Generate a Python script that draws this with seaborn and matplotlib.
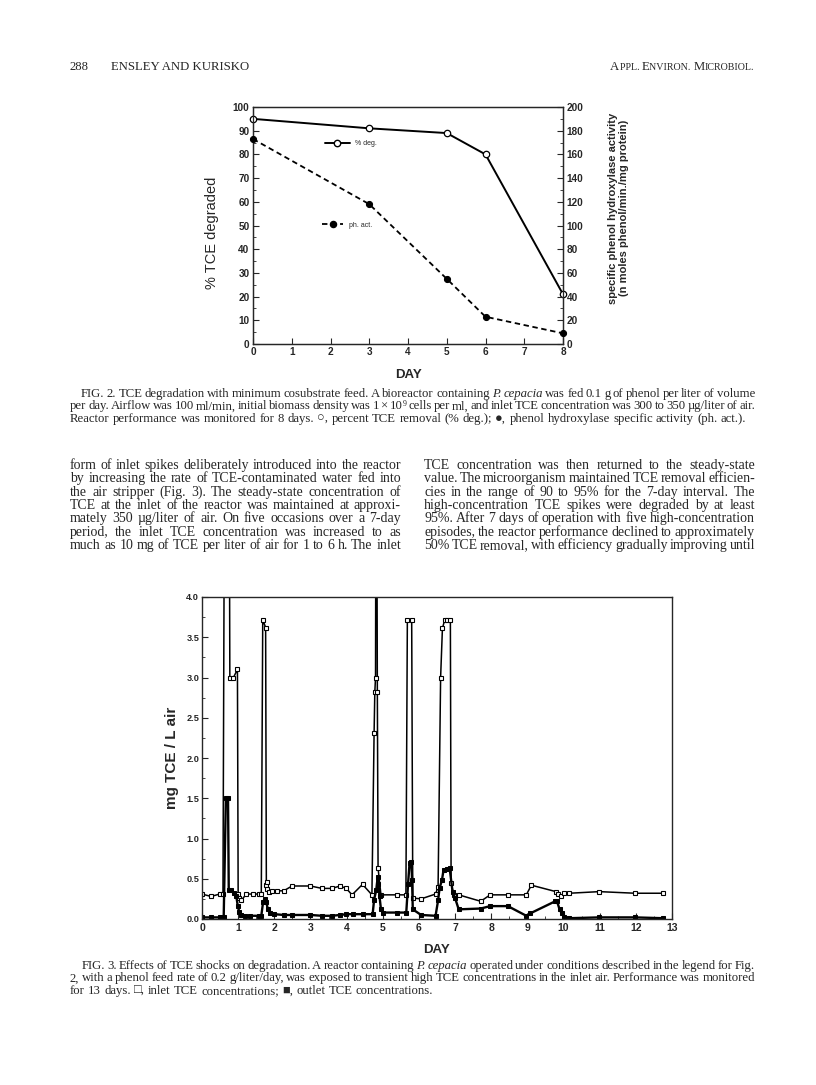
import matplotlib
matplotlib.use("Agg")
import matplotlib.pyplot as plt
import seaborn as sns
from matplotlib.lines import Line2D
from matplotlib.ticker import MultipleLocator, FormatStrFormatter

W, H = 816, 1085

# ---- Fig. 2 data ----
fig2_days = [0, 3, 5, 6, 8]
pct_degraded = [95, 91, 89, 80, 21]
ph_activity = [173, 118, 55, 23, 9]

# ---- Fig. 3 data (mg TCE / L air) ----
inlet_days = [0.00, 0.25, 0.49, 0.58, 0.64, 0.74, 0.77, 0.87, 0.98, 1.00, 1.02, 1.08,
              1.23, 1.40, 1.57, 1.64, 1.68, 1.76, 1.78, 1.80, 1.81, 1.84, 1.94, 2.08,
              2.26, 2.49, 3.00, 3.32, 3.59, 3.82, 3.99, 4.15, 4.44, 4.70, 4.76, 4.78,
              4.80, 4.82, 4.85, 4.87, 4.95, 5.39, 5.64, 5.68, 5.80, 5.83, 6.06, 6.46,
              6.53, 6.60, 6.65, 6.71, 6.79, 6.87, 6.89, 6.96, 7.10, 7.71, 7.97, 8.46,
              8.97, 9.11, 9.79, 9.86, 9.94, 10.02, 10.16, 10.99, 11.98, 12.75]
inlet_tce = [0.31, 0.28, 0.31, 0.31, 8.0, 8.0, 3.00, 3.00, 3.10, 0.31, 0.26, 0.23,
             0.31, 0.31, 0.31, 0.31, 3.72, 3.62, 0.42, 0.46, 0.37, 0.34, 0.35, 0.35,
             0.35, 0.41, 0.41, 0.38, 0.38, 0.41, 0.38, 0.30, 0.43, 0.30, 2.31, 2.82,
             3.00, 8.0, 2.82, 0.63, 0.30, 0.30, 0.30, 3.71, 3.71, 0.26, 0.25, 0.31,
             0.40, 3.00, 3.61, 3.71, 3.71, 3.71, 0.45, 0.30, 0.30, 0.22, 0.30, 0.30,
             0.30, 0.42, 0.34, 0.31, 0.29, 0.32, 0.32, 0.34, 0.32, 0.32]
outlet_days = [0.00, 0.25, 0.49, 0.60, 0.66, 0.72, 0.74, 0.81, 0.89, 0.95, 0.99, 1.03,
               1.09, 1.20, 1.34, 1.57, 1.64, 1.69, 1.73, 1.78, 1.82, 1.87, 2.00, 2.26,
               2.49, 3.00, 3.32, 3.59, 3.82, 3.99, 4.17, 4.44, 4.72, 4.76, 4.82, 4.86,
               4.88, 4.91, 4.95, 5.00, 5.39, 5.65, 5.70, 5.74, 5.79, 5.81, 5.83, 6.06,
               6.46, 6.53, 6.57, 6.64, 6.68, 6.79, 6.85, 6.93, 7.00, 7.10, 7.71, 7.97,
               8.46, 8.97, 9.08, 9.77, 9.82, 9.89, 9.95, 10.02, 10.16, 10.99, 11.98, 12.75]
outlet_tce = [0.02, 0.02, 0.02, 0.02, 1.50, 1.50, 0.36, 0.36, 0.32, 0.28, 0.16, 0.09,
              0.05, 0.04, 0.04, 0.04, 0.04, 0.21, 0.25, 0.21, 0.12, 0.08, 0.06, 0.05,
              0.05, 0.05, 0.04, 0.04, 0.05, 0.06, 0.06, 0.06, 0.06, 0.24, 0.36, 0.52,
              0.44, 0.28, 0.12, 0.08, 0.08, 0.08, 0.44, 0.69, 0.71, 0.49, 0.12, 0.05,
              0.04, 0.23, 0.38, 0.49, 0.61, 0.62, 0.63, 0.34, 0.26, 0.12, 0.13, 0.16,
              0.16, 0.04, 0.07, 0.22, 0.22, 0.12, 0.07, 0.03, 0.01, 0.02, 0.02, 0.01]

# ---- page text (_x_ = italic, a^b = superscript) ----
caption2 = [
    "FIG. 2. TCE degradation with minimum cosubstrate feed. A bioreactor containing _P._ _cepacia_ was fed 0.1 g of phenol per liter of volume",
    "per day. Airflow was 100 ml/min, initial biomass density was 1 × 10^9 cells per ml, and inlet TCE concentration was 300 to 350 µg/liter of air.",
    "Reactor performance was monitored for 8 days. ○, percent TCE removal (% deg.); ●, phenol hydroxylase specific activity (ph. act.).",
]
body_left = [
    "form of inlet spikes deliberately introduced into the reactor",
    "by increasing the rate of TCE-contaminated water fed into",
    "the air stripper (Fig. 3). The steady-state concentration of",
    "TCE at the inlet of the reactor was maintained at approxi-",
    "mately 350 µg/liter of air. On five occasions over a 7-day",
    "period, the inlet TCE concentration was increased to as",
    "much as 10 mg of TCE per liter of air for 1 to 6 h. The inlet",
]
body_right = [
    "TCE concentration was then returned to the steady-state",
    "value. The microorganism maintained TCE removal efficien-",
    "cies in the range of 90 to 95% for the 7-day interval. The",
    "high-concentration TCE spikes were degraded by at least",
    "95%. After 7 days of operation with five high-concentration",
    "episodes, the reactor performance declined to approximately",
    "50% TCE removal, with efficiency gradually improving until",
]
caption3 = [
    "FIG. 3. Effects of TCE shocks on degradation. A reactor containing _P._ _cepacia_ operated under conditions described in the legend for Fig.",
    "2, with a phenol feed rate of 0.2 g/liter/day, was exposed to transient high TCE concentrations in the inlet air. Performance was monitored",
    "for 13 days. □, inlet TCE concentrations; ■, outlet TCE concentrations.",
]

sns.set_style("ticks")
plt.rcParams['font.family'] = ['Liberation Sans', 'DejaVu Sans']
plt.rcParams['axes.linewidth'] = 0.9
SERIF = ['Liberation Serif', 'DejaVu Serif']

fig = plt.figure(figsize=(W / 100, H / 100), dpi=100)
renderer = fig.canvas.get_renderer()


def text_width(s, size, style='normal'):
    t = fig.text(0, 0, s, fontsize=size, family=SERIF, style=style)
    w = t.get_window_extent(renderer).width
    t.remove()
    return w


def split_words(line):
    out = []
    for w in line.split(' '):
        if w.startswith('_') and w.endswith('_'):
            out.append((w[1:-1], 'italic'))
        elif '^' in w:
            out.append((w, 'sup'))
        else:
            out.append((w, 'normal'))
    return out


def word_width(w, st, size):
    if st == 'sup':
        base, sup = w.split('^')
        return text_width(base, size) + text_width(sup, size * 0.62)
    return text_width(w, size, st)


def tight_width(line, size, squeeze=0.6):
    # words plus squeezed interword spaces, as a justified line can carry
    words = split_words(line)
    sp = text_width('x x', size) - text_width('xx', size)
    return sum(word_width(w, st, size) for w, st in words) + squeeze * sp * (len(words) - 1)


def fit_size(blocks, base=10.0):
    best = 20
    for lines, width, indent in blocks:
        for i, ln in enumerate(lines):
            avail = width - (indent if i == 0 else 0)
            best = min(best, base * avail / tight_width(ln, base))
    return best


def draw_word(w, st, x, y, size):
    if st == 'sup':
        base, sup = w.split('^')
        fig.text(x / W, 1 - y / H, base, fontsize=size, family=SERIF, va='baseline')
        bw = text_width(base, size)
        fig.text((x + bw) / W, 1 - (y - size * 0.42) / H, sup, fontsize=size * 0.62,
                 family=SERIF, va='baseline')
    else:
        fig.text(x / W, 1 - y / H, w, fontsize=size, family=SERIF, style=st, va='baseline')


def draw_line(line, x0, x1, y, size, justify=True):
    words = split_words(line)
    widths = [word_width(w, st, size) for w, st in words]
    gap = text_width('x x', size) - text_width('xx', size)
    if justify and len(words) > 1:
        gap = (x1 - x0 - sum(widths)) / (len(words) - 1)
    x = x0
    for (w, st), wd in zip(words, widths):
        draw_word(w, st, x, y, size)
        x += wd + gap


def draw_block(lines, x0, x1, y0, step, size, indent=0, last_left=False):
    for i, ln in enumerate(lines):
        xs = x0 + (indent if i == 0 else 0)
        just = not (last_left and i == len(lines) - 1)
        draw_line(ln, xs, x1, y0 + i * step, size, justify=just)


# ---- running head ----
fig.text(70 / W, 1 - 70 / H, "288", fontsize=9.2, family=SERIF, va='baseline')
fig.text(111 / W, 1 - 70 / H, "ENSLEY AND KURISKO", fontsize=9.2, family=SERIF, va='baseline')
smallcaps = [("A", 9.2), ("PPL. ", 7.2), ("E", 9.2), ("NVIRON. ", 7.2), ("M", 9.2), ("ICROBIOL.", 7.2)]
total = sum(text_width(s.replace(' ', '\u00a0'), z) for s, z in smallcaps)
x = 754 - total
for s, z in smallcaps:
    s2 = s.replace(' ', '\u00a0')
    fig.text(x / W, 1 - 70 / H, s2, fontsize=z, family=SERIF, va='baseline')
    x += text_width(s2, z)

# ---- Fig. 2 ----
ax = fig.add_axes([253 / W, 1 - 344 / H, 310 / W, 237 / H])
sns.lineplot(x=fig2_days, y=pct_degraded, ax=ax, color='black', lw=1.4, marker='o',
             markersize=4.6, markerfacecolor='white', markeredgecolor='black',
             markeredgewidth=0.9, legend=False, clip_on=False, zorder=3)
axr = ax.twinx()
sns.lineplot(x=fig2_days, y=ph_activity, ax=axr, color='black', lw=1.3, linestyle=(0, (3, 2)),
             marker='o', markersize=4.4, markerfacecolor='black', markeredgecolor='black',
             legend=False, clip_on=False, zorder=3)
ax.set_xlim(0, 8)
ax.set_ylim(0, 100)
axr.set_ylim(0, 200)
ax.xaxis.set_major_locator(MultipleLocator(1))
ax.yaxis.set_major_locator(MultipleLocator(10))
ax.yaxis.set_minor_locator(MultipleLocator(5))
axr.yaxis.set_major_locator(MultipleLocator(20))
axr.yaxis.set_minor_locator(MultipleLocator(10))
for a in (ax, axr):
    a.tick_params(which='major', direction='in', length=4, width=0.8, labelsize=7.2, pad=2.5)
    a.tick_params(which='minor', direction='in', length=2, width=0.6)
    for lab in a.get_xticklabels() + a.get_yticklabels():
        lab.set_fontweight('bold')
    for sp in a.spines.values():
        sp.set_visible(True)
ax.set_xlabel("DAY", fontsize=9.5, fontweight='bold', va='center')
ax.xaxis.set_label_coords(0.5, -0.131)
ax.set_ylabel("% TCE degraded", fontsize=10.5, va='center', ha='center')
ax.yaxis.set_label_coords(-0.132, 0.468)
axr.set_ylabel("specific phenol hydroxylase activity\n(n moles phenol/min./mg protein)",
               fontsize=8, fontweight='bold', va='center', ha='center', linespacing=1.1)
axr.yaxis.set_label_coords(1.178, 0.574)

h1 = Line2D([], [], color='black', lw=1.4, marker='o', markersize=4.6,
            markerfacecolor='white', markeredgecolor='black')
h2 = Line2D([], [], color='black', lw=1.3, linestyle=(0, (3, 2)), marker='o',
            markersize=4.4, markerfacecolor='black')
leg1 = axr.legend([h1], ["% deg."], loc='center left', bbox_to_anchor=(0.232, 0.844),
                  frameon=False, fontsize=5, handlelength=3.6, handletextpad=0.8,
                  borderpad=0, borderaxespad=0)
axr.add_artist(leg1)
axr.legend([h2], ["ph. act."], loc='center left', bbox_to_anchor=(0.222, 0.502),
           frameon=False, fontsize=5, handlelength=3.1, handletextpad=0.8,
           borderpad=0, borderaxespad=0)

cap_size = fit_size([(caption2[:-1], 685, 11), (caption3[:-1], 685, 12)])
body_size = fit_size([(body_left, 331, 0), (body_right, 331, 0)])

draw_block(caption2, 70, 755, 397, 12.4, cap_size, indent=11, last_left=True)
draw_block(body_left, 70, 401, 469, 13.35, body_size)
draw_block(body_right, 424, 755, 469, 13.35, body_size)

# ---- Fig. 3 ----
ax3 = fig.add_axes([202 / W, 1 - 919 / H, 470 / W, 322 / H])
sns.lineplot(x=inlet_days, y=inlet_tce, ax=ax3, estimator=None, sort=False, color='black',
             lw=1.1, marker='s', markersize=3.2, markerfacecolor='white',
             markeredgecolor='black', markeredgewidth=0.8, legend=False)
sns.lineplot(x=outlet_days, y=outlet_tce, ax=ax3, estimator=None, sort=False, color='black',
             lw=1.7, marker='s', markersize=3.0, markerfacecolor='black',
             markeredgecolor='black', legend=False)
ax3.set_xlim(0, 13)
ax3.set_ylim(0, 4)
ax3.xaxis.set_major_locator(MultipleLocator(1))
ax3.xaxis.set_minor_locator(MultipleLocator(0.5))
ax3.yaxis.set_major_locator(MultipleLocator(0.5))
ax3.yaxis.set_minor_locator(MultipleLocator(0.25))
ax3.yaxis.set_major_formatter(FormatStrFormatter('%.1f'))
ax3.tick_params(which='major', direction='in', length=4, width=0.8, pad=3)
ax3.tick_params(which='minor', direction='in', length=2, width=0.6)
ax3.tick_params(axis='x', labelsize=7.5)
ax3.tick_params(axis='y', labelsize=6.6, pad=2)
for lab in ax3.get_xticklabels() + ax3.get_yticklabels():
    lab.set_fontweight('bold')
for sp in ax3.spines.values():
    sp.set_visible(True)
    sp.set_linewidth(1.0)
ax3.set_xlabel("DAY", fontsize=9.5, fontweight='bold', va='center')
ax3.xaxis.set_label_coords(0.5, -0.096)
ax3.set_ylabel("mg TCE / L air", fontsize=11, fontweight='bold', va='center', ha='center')
ax3.yaxis.set_label_coords(-0.064, 0.5)

draw_block(caption3, 70, 755, 969, 12.4, cap_size, indent=12, last_left=True)

fig.savefig("out.png", dpi=100)
